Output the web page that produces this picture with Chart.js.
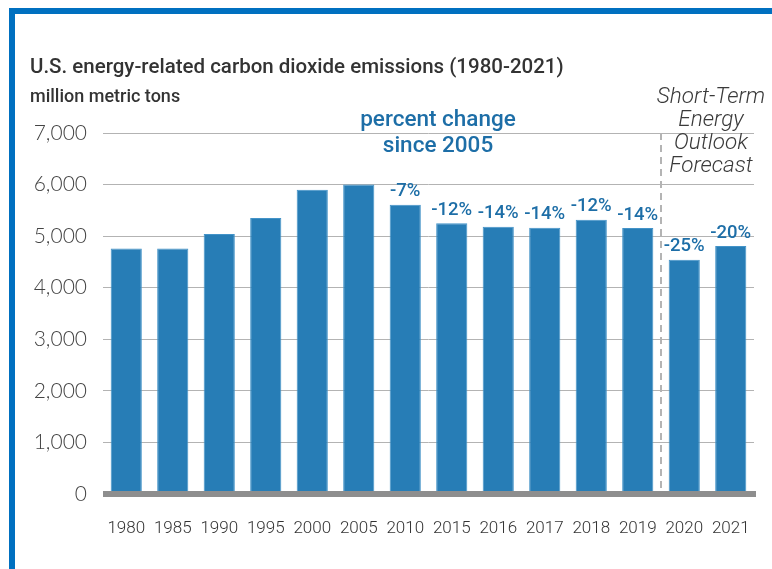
<!DOCTYPE html>
<html>
<head>
<meta charset="utf-8">
<script src="https://cdn.jsdelivr.net/npm/chart.js@4"></script>
<style>
  body { margin: 0; background: #fff; }
  canvas { display: block; }
</style>
</head>
<body>
<canvas id="myChart" width="772" height="569"></canvas>
<script>
// datos
const years = ['1980', '1985', '1990', '1995', '2000', '2005', '2010', '2015', '2016', '2017', '2018', '2019', '2020', '2021'];
const emissions = [4760, 4760, 5040, 5350, 5900, 6000, 5610, 5250, 5180, 5165, 5320, 5160, 4540, 4810];
const pctLabels = ['', '', '', '', '', '', '-7%', '-12%', '-14%', '-14%', '-12%', '-14%', '-25%', '-20%'];
const yTicks = [0, 1000, 2000, 3000, 4000, 5000, 6000, 7000];
const forecastLines = ['Short-Term', 'Energy', 'Outlook', 'Forecast'];

const azul = '#277db6';
const azulTexto = '#1d6ea7';

// textos, borde, linea punteada y base gris
const extras = {
  id: 'extras',
  beforeDraw(chart) {
    const c = chart.ctx;
    c.save();
    c.fillStyle = '#fff';
    c.fillRect(0, 0, chart.width, chart.height);
    c.fillStyle = '#0070c0';
    c.fillRect(9, 8, chart.width - 9, 6);
    c.fillRect(9, 8, 6, chart.height - 8);
    c.restore();
  },
  afterDatasetsDraw(chart) {
    const c = chart.ctx;
    const area = chart.chartArea;
    const x = chart.scales.x;
    const meta = chart.getDatasetMeta(0);
    c.save();

    // linea punteada entre 2019 y 2020
    const xs = (x.getPixelForValue(11) + x.getPixelForValue(12)) / 2;
    c.strokeStyle = '#b4b4b4';
    c.lineWidth = 2;
    c.setLineDash([7, 5]);
    c.beginPath();
    c.moveTo(xs, area.top);
    c.lineTo(xs, area.bottom);
    c.stroke();
    c.setLineDash([]);

    // base gris
    c.fillStyle = '#8e8e8e';
    c.fillRect(area.left, area.bottom - 3, area.right - area.left + 2, 6);

    // etiquetas de porcentaje
    c.fillStyle = azulTexto;
    c.font = '500 18.5px Roboto';
    c.textAlign = 'center';
    c.textBaseline = 'middle';
    meta.data.forEach(function (bar, i) {
      if (pctLabels[i]) c.fillText(pctLabels[i], bar.x, bar.y - 13);
    });

    // titulo
    c.textAlign = 'left';
    c.fillStyle = '#333';
    c.font = '500 20.5px Roboto';
    c.fillText('U.S. energy-related carbon dioxide emissions (1980-2021)', 30, 68);
    c.font = '500 18px Roboto';
    c.fillText('million metric tons', 30, 97);

    // anotacion
    c.textAlign = 'center';
    c.fillStyle = azulTexto;
    c.font = '500 22.5px Roboto';
    c.fillText('percent change', 438, 120);
    c.fillText('since 2005', 438, 146);

    c.fillStyle = '#3a3a3a';
    c.font = 'italic 300 22.5px Roboto';
    forecastLines.forEach(function (t, i) {
      c.fillText(t, 711, 97 + i * 23);
    });
    c.restore();
  }
};

const ctx = document.getElementById('myChart');
new Chart(ctx, {
  type: 'bar',
  data: {
    labels: years,
    datasets: [{
      data: emissions,
      backgroundColor: azul,
      borderColor: '#4393c8',
      borderWidth: 1,
      categoryPercentage: 1,
      barPercentage: 0.67
    }]
  },
  options: {
    responsive: false,
    animation: false,
    layout: { padding: { left: 0, top: 133, right: 18, bottom: 0 } },
    plugins: {
      legend: { display: false },
      tooltip: { enabled: false }
    },
    scales: {
      x: {
        grid: { display: false },
        border: { display: false },
        ticks: {
          color: '#333',
          font: { family: 'Roboto', size: 17, weight: '300' },
          padding: 17,
          maxRotation: 0,
          autoSkip: false
        },
        afterFit: function (scale) { scale.height = 75; }
      },
      y: {
        min: 0,
        max: 7000,
        afterBuildTicks: function (scale) {
          scale.ticks = yTicks.map(function (v) { return { value: v }; });
        },
        grid: { color: '#b3b3b3', lineWidth: 1, drawTicks: false },
        border: { display: false },
        ticks: {
          color: '#444',
          font: { family: 'Lato', size: 21, weight: '300' },
          padding: 16,
          callback: function (v) { return v.toLocaleString('en-US'); }
        },
        afterFit: function (scale) { scale.width = 103; }
      }
    }
  },
  plugins: [extras]
});
</script>
</body>
</html>
